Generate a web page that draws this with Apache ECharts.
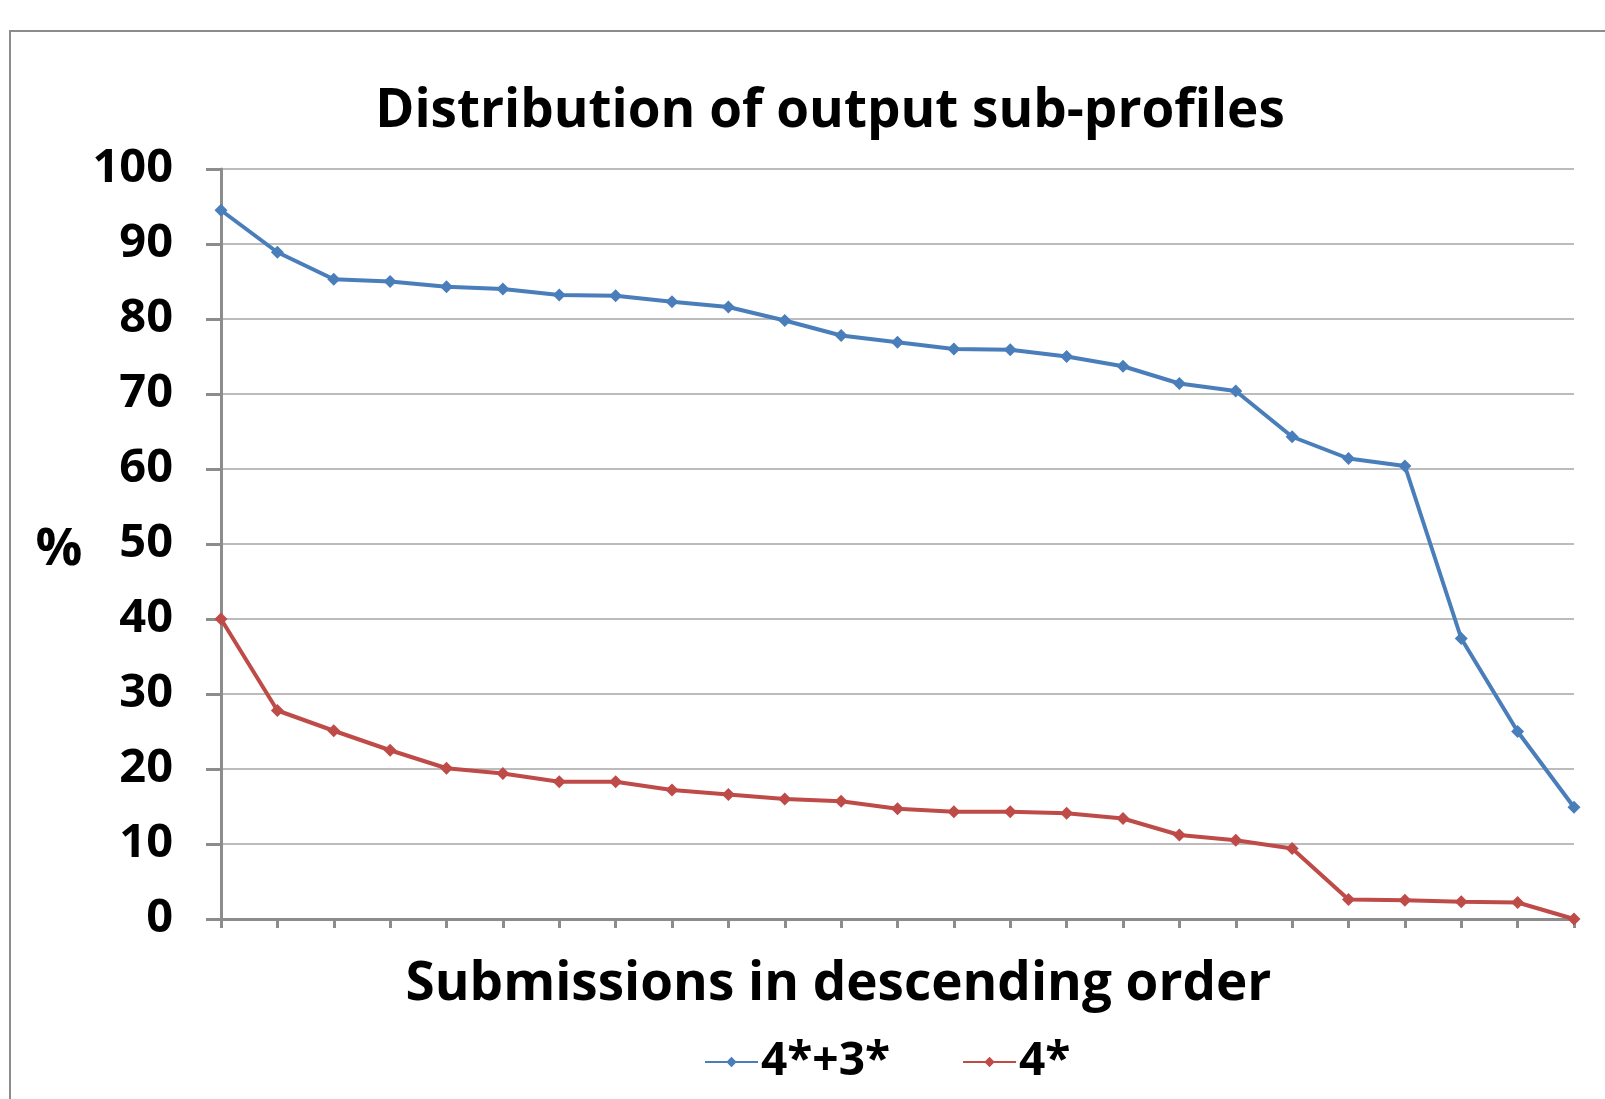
<!DOCTYPE html>
<html>
<head>
<meta charset="utf-8">
<script src="https://cdn.jsdelivr.net/npm/echarts@6/dist/echarts.min.js"></script>
<style>
  html, body { margin: 0; padding: 0; background: #fff; }
  #chart { width: 1605px; height: 1099px; }
</style>
</head>
<body>
<div id="chart"></div>
<script>
const categories = [];
for (let i = 1; i <= 25; i++) categories.push(String(i));

const combined = [94.5, 88.9, 85.3, 85.0, 84.3, 84.0, 83.2, 83.1, 82.3, 81.6,
  79.8, 77.8, 76.9, 76.0, 75.9, 75.0, 73.7, 71.4, 70.4, 64.3,
  61.4, 60.4, 37.4, 25.0, 14.9];
const fourStar = [40.0, 27.8, 25.1, 22.5, 20.1, 19.4, 18.3, 18.3, 17.2, 16.6,
  16.0, 15.7, 14.7, 14.3, 14.3, 14.1, 13.4, 11.2, 10.5, 9.4,
  2.6, 2.5, 2.3, 2.2, 0];

const font = "'Open Sans', 'Noto Sans', sans-serif";
const blue = "#4a7ebb";
const red = "#be4b48";

const chart = echarts.init(document.getElementById("chart"));

option = {
  animation: false,
  textStyle: { fontFamily: font },
  title: {
    text: "Distribution of output sub-profiles",
    left: 825,
    top: 80,
    textAlign: "center",
    textStyle: { fontFamily: font, fontSize: 53, fontWeight: "bold", color: "#000" },
  },
  graphic: [
    {
      type: "rect",
      shape: { x: 10, y: 31, width: 1700, height: 1200 },
      style: { fill: "none", stroke: "#8c8c8c", lineWidth: 2 },
      silent: true,
    },
    {
      // y axis title
      type: "text",
      x: 59,
      y: 550,
      style: {
        text: "%",
        font: "bold 52px " + font,
        fill: "#000",
        align: "center",
        verticalAlign: "middle",
      },
      silent: true,
    },
  ],
  grid: { left: 221, right: 31, top: 169, bottom: 180 },
  legend: {
    left: 699,
    top: 1034,
    itemWidth: 53,
    itemHeight: 13,
    itemGap: 72,
    textStyle: { fontFamily: font, fontSize: 46, fontWeight: "bold", color: "#000", padding: [0, 0, 0, -2] },
    data: ["4*+3*", "4*"],
  },
  xAxis: {
    type: "category",
    data: categories,
    boundaryGap: false,
    name: "Submissions in descending order",
    nameLocation: "middle",
    nameGap: 39,
    nameTextStyle: { fontFamily: font, fontSize: 53, fontWeight: "bold", color: "#000", padding: [0, 118, 0, 0] },
    axisLine: { lineStyle: { color: "#8c8c8c", width: 3 } },
    axisTick: { show: true, length: 9, alignWithLabel: true, lineStyle: { color: "#8c8c8c", width: 3 } },
    axisLabel: { show: false },
    splitLine: { show: false },
  },
  yAxis: {
    type: "value",
    min: 0,
    max: 100,
    interval: 10,
    axisLine: { show: true, lineStyle: { color: "#8c8c8c", width: 3 } },
    axisTick: { show: true, inside: false, length: 15, lineStyle: { color: "#8c8c8c", width: 3 } },
    axisLabel: { margin: 48, fontFamily: font, fontSize: 47, fontWeight: "bold", color: "#000" },
    splitLine: { lineStyle: { color: "#a6a6a6", width: 1.5 } },
  },
  series: [
    {
      name: "4*+3*",
      type: "line",
      data: combined,
      symbol: "diamond",
      symbolSize: 13,
      lineStyle: { color: blue, width: 4 },
      itemStyle: { color: blue },
    },
    {
      name: "4*",
      type: "line",
      data: fourStar,
      symbol: "diamond",
      symbolSize: 13,
      lineStyle: { color: red, width: 4 },
      itemStyle: { color: red },
    },
  ],
};

chart.setOption(option);
</script>
</body>
</html>
